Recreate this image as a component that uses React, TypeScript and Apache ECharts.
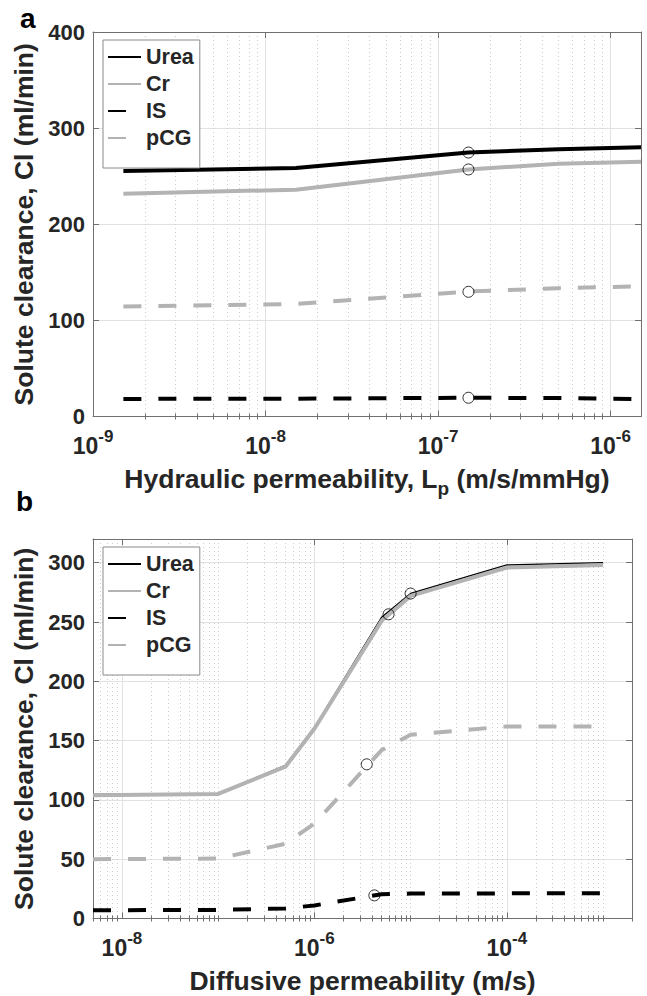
import React, { useEffect, useRef } from 'react';
import * as echarts from 'echarts';

// ---------- data ----------
const SERIES_NAMES = ['Urea', 'Cr', 'IS', 'pCG'];

// Panel a: hydraulic permeability Lp (m/s/mmHg)
const lpX = [1.5e-9, 1.5e-8, 1.5e-7, 5e-7, 1.5e-6];
const lpUrea = [255.3, 258.5, 274.6, 278, 280];
const lpCr = [231.7, 236, 257, 263, 265];
const lpIS = [18.3, 18.5, 19.5, 19.2, 18];
const lpPCG = [114.5, 117, 130, 133.5, 135.5];
const lpMarkX = [1.5e-7, 1.5e-7, 1.5e-7, 1.5e-7];
const lpMarkY = [274.6, 257, 19.5, 129.7];
const lpXLim = [1e-9, 1.5e-6];
const lpMajorExp = [-9, -8, -7, -6];
const lpYMax = 400;
const lpYStep = 100;

// Panel b: diffusive permeability (m/s)
const pdX = [5e-9, 1e-7, 5e-7, 1e-6, 5e-6, 1e-5, 1e-4, 1e-3];
const pdUrea = [104.5, 105.5, 129, 161, 254, 274, 298, 300];
const pdCr = [104, 105, 128, 160, 251, 272, 296, 298];
const pdIS = [7, 7.2, 8.5, 11, 20.5, 21, 21.2, 21.2];
const pdPCG = [50, 50.5, 63, 80, 142, 155, 162, 162];
const pdMarkX = [1e-5, 5.9e-6, 4.2e-6, 3.5e-6];
const pdMarkY = [274, 256.5, 19.5, 130];
const pdXLim = [5e-9, 2e-3];
const pdMajorExp = [-8, -6, -4];
const pdYMax = 320;
const pdYStep = 50;

// ---------- styling ----------
const FONT = '"Liberation Sans", Arial, Helvetica, sans-serif';
const TEXT = '#262626';
const AXIS = '#707070';
const GRID_MAJOR = '#e2e2e2';
const GRID_MINOR = '#cccccc';
const GRAY = '#b3b3b3';
const DASH = [18, 17];
const LW = 4;
const TITLE_SIZE = 26.5;
const TICK_SIZE = 22;
const XTICK_SIZE = 23;

function minorTicks(lim: number[], majors: number[]) {
  const lo = Math.log10(lim[0]);
  const hi = Math.log10(lim[1]);
  const out: number[] = [];
  for (let e = Math.floor(lo); e <= Math.ceil(hi); e++) {
    for (let n = 1; n <= 9; n++) {
      const v = e + Math.log10(n);
      if (v < lo - 1e-9 || v > hi + 1e-9) continue;
      if (n === 1 && majors.includes(e)) continue;
      out.push(v);
    }
  }
  return out;
}

const pts = (xs: number[], ys: number[]) => xs.map((x, i) => [Math.log10(x), ys[i]]);

const axisLine = { show: true, onZero: false, lineStyle: { color: AXIS, width: 1 } };

function xAxes(gridIndex: number, lim: number[], majors: number[], name: string) {
  const min = Math.log10(lim[0]);
  const max = Math.log10(lim[1]);
  const minors = minorTicks(lim, majors);
  const base: any = {
    type: 'value', gridIndex, min, max,
    axisLine: { ...axisLine },
    axisLabel: { show: false },
    splitLine: { show: false },
    axisTick: { show: false },
  };
  return [
    {
      ...base,
      position: 'bottom',
      name,
      nameLocation: 'middle',
      nameGap: 49,
      nameTextStyle: {
        rich: {
          n: { fontSize: TITLE_SIZE, lineHeight: TITLE_SIZE, fontWeight: 'bold', color: TEXT, fontFamily: FONT, verticalAlign: 'top' },
          s: { fontSize: 19, lineHeight: 19, fontWeight: 'bold', color: TEXT, fontFamily: FONT, verticalAlign: 'top', padding: [13, 0, 0, 0] },
        },
      },
      axisTick: { show: true, inside: true, length: 6, customValues: majors, lineStyle: { color: AXIS } },
      axisLabel: {
        show: true,
        customValues: majors,
        margin: 11,
        formatter: (v: number) => `{b|10}{s|${Math.round(v)}}`,
        rich: {
          b: { fontSize: XTICK_SIZE, lineHeight: XTICK_SIZE, fontWeight: 'bold', color: TEXT, fontFamily: FONT, verticalAlign: 'top', padding: [7, 0, 0, 0] },
          s: { fontSize: 17, lineHeight: 17, fontWeight: 'bold', color: TEXT, fontFamily: FONT, verticalAlign: 'top' },
        },
      },
      splitLine: { show: true, lineStyle: { color: GRID_MAJOR, width: 1 } },
    },
    {
      ...base,
      position: 'bottom',
      axisLine: { show: false },
      axisTick: { show: true, inside: true, length: 3, customValues: minors, lineStyle: { color: AXIS } },
      splitLine: { show: true, lineStyle: { color: GRID_MINOR, width: 1, type: [1, 3] } },
    },
    {
      ...base,
      position: 'top',
      axisTick: { show: true, inside: true, length: 6, customValues: majors, lineStyle: { color: AXIS } },
    },
    {
      ...base,
      position: 'top',
      axisLine: { show: false },
      axisTick: { show: true, inside: true, length: 3, customValues: minors, lineStyle: { color: AXIS } },
    },
  ];
}

function yAxes(gridIndex: number, max: number, step: number) {
  return [
    {
      type: 'value', gridIndex, min: 0, max, interval: step, position: 'left',
      axisLine: { ...axisLine },
      axisTick: { show: true, inside: true, length: 6, lineStyle: { color: AXIS } },
      axisLabel: { show: true, fontSize: TICK_SIZE, fontWeight: 'bold', color: TEXT, fontFamily: FONT, margin: 8, showMaxLabel: max % step === 0 },
      splitLine: { show: true, lineStyle: { color: GRID_MAJOR, width: 1 } },
      name: 'Solute clearance, Cl (ml/min)',
      nameLocation: 'middle',
      nameGap: 53,
      nameTextStyle: { fontSize: TITLE_SIZE, fontWeight: 'bold', color: TEXT, fontFamily: FONT },
    },
    {
      type: 'value', gridIndex, min: 0, max, interval: step, position: 'right',
      axisLine: { ...axisLine },
      axisTick: { show: true, inside: true, length: 6, lineStyle: { color: AXIS } },
      axisLabel: { show: false },
      splitLine: { show: false },
    },
  ];
}

function panelSeries(xIdx: number, yIdx: number, xs: number[], urea: number[], cr: number[], is: number[], pcg: number[], mx: number[], my: number[], ureaWidth: number) {
  const common = { type: 'line', xAxisIndex: xIdx, yAxisIndex: yIdx, symbol: 'none', showSymbol: false, silent: true };
  return [
    { ...common, name: 'Urea', data: pts(xs, urea), lineStyle: { color: '#000', width: ureaWidth }, itemStyle: { color: '#000' }, z: 3 },
    { ...common, name: 'Cr', data: pts(xs, cr), lineStyle: { color: GRAY, width: LW }, itemStyle: { color: GRAY }, z: 4 },
    { ...common, name: 'IS', data: pts(xs, is), lineStyle: { color: '#000', width: LW, type: DASH, cap: 'butt' }, itemStyle: { color: '#000' }, z: 3 },
    { ...common, name: 'pCG', data: pts(xs, pcg), lineStyle: { color: GRAY, width: LW, type: DASH, cap: 'butt' }, itemStyle: { color: GRAY }, z: 3 },
    {
      type: 'scatter', name: 'baseline', xAxisIndex: xIdx, yAxisIndex: yIdx, silent: true,
      data: pts(mx, my), symbol: 'circle', symbolSize: 11,
      itemStyle: { color: 'rgba(0,0,0,0)', borderColor: '#000', borderWidth: 1 }, z: 6,
    },
  ];
}

function legend(top: number) {
  return {
    data: SERIES_NAMES,
    orient: 'vertical',
    left: 103,
    top,
    itemWidth: 33,
    itemHeight: 14,
    itemGap: 5,
    itemTextGap: 4,
    padding: [6, 6, 19, 4],
    borderColor: '#8a8a8a',
    borderWidth: 1,
    backgroundColor: '#fff',
    selectedMode: false,
    itemStyle: { opacity: 0 },
    textStyle: { fontSize: 21.5, lineHeight: 21, fontWeight: 'bold', color: TEXT, fontFamily: FONT },
    z: 10,
  };
}

export default function App() {
  const ref = useRef<HTMLDivElement>(null);
  useEffect(() => {
    if (!ref.current) return;
    const chart = echarts.init(ref.current, null, { renderer: 'svg' });
    const option: any = {
      animation: false,
      backgroundColor: '#fff',
      textStyle: { fontFamily: FONT },
      grid: [
        { left: 93, top: 32, width: 548, height: 384.5, outerBoundsMode: 'none', containLabel: false },
        { left: 93, top: 539, width: 539, height: 379.5, outerBoundsMode: 'none', containLabel: false },
      ],
      xAxis: [
        ...xAxes(0, lpXLim, lpMajorExp, '{n|Hydraulic permeability, L}{s|p}{n| (m/s/mmHg)}'),
        ...xAxes(1, pdXLim, pdMajorExp, '{n|Diffusive permeability (m/s)}'),
      ],
      yAxis: [...yAxes(0, lpYMax, lpYStep), ...yAxes(1, pdYMax, pdYStep)],
      legend: [legend(40), legend(547)],
      series: [
        ...panelSeries(0, 0, lpX, lpUrea, lpCr, lpIS, lpPCG, lpMarkX, lpMarkY, LW),
        ...panelSeries(4, 2, pdX, pdUrea, pdCr, pdIS, pdPCG, pdMarkX, pdMarkY, 1.5),
      ],
      graphic: [
        { type: 'text', x: 20, y: 18, style: { text: 'a', fontSize: 28, fontWeight: 'bold', fill: '#000', fontFamily: FONT, verticalAlign: 'middle' } },
        { type: 'text', x: 16, y: 501, style: { text: 'b', fontSize: 28, fontWeight: 'bold', fill: '#000', fontFamily: FONT, verticalAlign: 'middle' } },
      ],
    };
    chart.setOption(option);
    return () => chart.dispose();
  }, []);
  return <div ref={ref} style={{ position: 'absolute', left: 0, top: 0, width: 647, height: 996 }} />;
}
